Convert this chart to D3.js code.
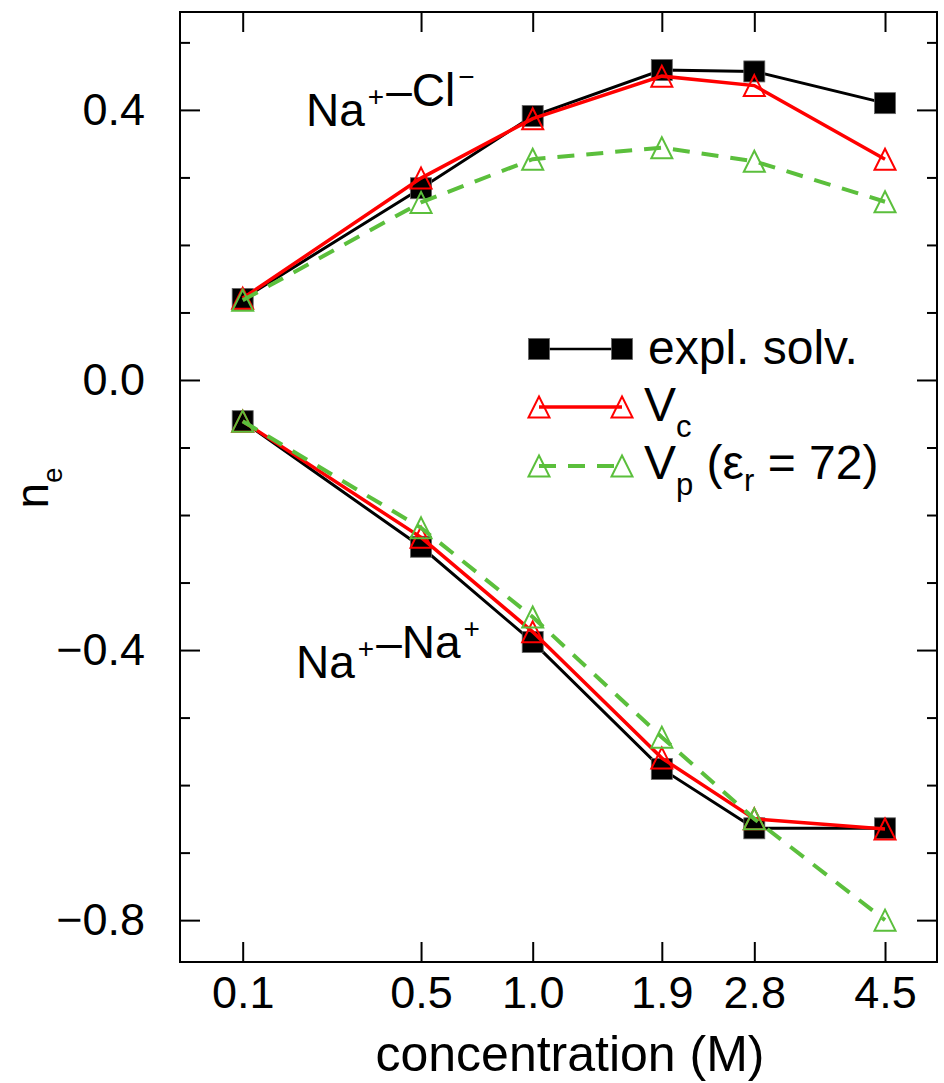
<!DOCTYPE html>
<html>
<head>
<meta charset="utf-8">
<script src="https://cdn.jsdelivr.net/npm/d3@7"></script>
<style>
  html, body { margin: 0; padding: 0; background: #fff; }
  svg { display: block; font-family: "Liberation Sans", Arial, Helvetica, sans-serif; }
</style>
</head>
<body>
<svg id="chart" width="944" height="1083"></svg>
<script>
// ---- data ----
const concentrations = [0.1, 0.5, 1.0, 1.9, 2.8, 4.5];
const xTickLabels = ["0.1", "0.5", "1.0", "1.9", "2.8", "4.5"];

const naclExpl = [0.120, 0.284, 0.391, 0.459, 0.457, 0.410];
const naclVc   = [0.121, 0.299, 0.387, 0.450, 0.436, 0.327];
const naclVp   = [0.118, 0.263, 0.327, 0.344, 0.324, 0.264];

const nanaExpl = [-0.061, -0.247, -0.388, -0.576, -0.664, -0.664];
const nanaVc   = [-0.061, -0.233, -0.373, -0.560, -0.650, -0.665];
const nanaVp   = [-0.061, -0.219, -0.351, -0.529, -0.650, -0.800];

const yMajorTicks = [-0.8, -0.4, 0.0, 0.4];
const yTickLabels = ["\u22120.8", "\u22120.4", "0.0", "0.4"];
const yMinorTicks = [-0.7, -0.6, -0.5, -0.3, -0.2, -0.1, 0.1, 0.2, 0.3, 0.5];

const seriesNames = ["expl. solv.", "Vc", "Vp"];

// ---- layout ----
const L = 180, R = 937, T = 12, B = 962;
const svg = d3.select("#chart");

const x = d3.scalePow().exponent(1 / 3).domain([0.04226, 5.332]).range([L, R]);
const y = d3.scaleLinear().domain([-0.862, 0.545]).range([B, T]);

const BLACK = "#000", RED = "#ff0000", GREEN = "#5bbf3c";
const styles = {
  expl: { color: BLACK, width: 3, dash: null, marker: "square" },
  vc:   { color: RED, width: 3.5, dash: null, marker: "triangle" },
  vp:   { color: GREEN, width: 4, dash: "17,12", marker: "triangle" }
};

// ---- axes (ticks inward on all four sides) ----
const majorLen = 20, minorLen = 10;
const fs = 45;

const axB = d3.axisBottom(x).tickValues(concentrations).tickSize(-majorLen)
  .tickPadding(14).tickFormat((d, i) => xTickLabels[i]);
const gB = svg.append("g").attr("transform", `translate(0,${B})`).call(axB);
const axT = d3.axisTop(x).tickValues(concentrations).tickSize(-majorLen).tickFormat("");
const gT = svg.append("g").attr("transform", `translate(0,${T})`).call(axT);

const axL = d3.axisLeft(y).tickValues(yMajorTicks).tickSize(-majorLen)
  .tickPadding(35).tickFormat((d, i) => yTickLabels[i]);
const gL = svg.append("g").attr("transform", `translate(${L},0)`).call(axL);
const axLm = d3.axisLeft(y).tickValues(yMinorTicks).tickSize(-minorLen).tickFormat("");
const gLm = svg.append("g").attr("transform", `translate(${L},0)`).call(axLm);
const axR = d3.axisRight(y).tickValues(yMajorTicks).tickSize(-majorLen).tickFormat("");
const gR = svg.append("g").attr("transform", `translate(${R},0)`).call(axR);
const axRm = d3.axisRight(y).tickValues(yMinorTicks).tickSize(-minorLen).tickFormat("");
const gRm = svg.append("g").attr("transform", `translate(${R},0)`).call(axRm);

[gB, gT, gL, gLm, gR, gRm].forEach(g => {
  g.select(".domain").remove();
  g.selectAll(".tick line").attr("stroke", "#000").attr("stroke-width", 2);
  g.selectAll(".tick text").attr("fill", "#000").style("font-size", fs + "px")
    .style("font-family", '"Liberation Sans", Arial, sans-serif');
});
gB.selectAll(".tick text").attr("dy", "0.71em");

// frame
svg.append("rect").attr("x", L).attr("y", T).attr("width", R - L).attr("height", B - T)
  .attr("fill", "none").attr("stroke", "#000").attr("stroke-width", 2);

// axis titles
svg.append("text").attr("x", 570).attr("y", 1071).attr("text-anchor", "middle")
  .style("font-size", "50px").text("concentration (M)");

const yl = svg.append("text").attr("transform", "translate(48,488) rotate(-90)")
  .attr("text-anchor", "middle").style("font-size", "46px");
yl.append("tspan").text("n");
yl.append("tspan").attr("dy", 14).style("font-size", "28px").text("e");

// ---- markers ----
const MS = 21;
function drawMarker(g, type, cx, cy, color) {
  if (type === "square") {
    g.append("rect").attr("x", cx - MS / 2).attr("y", cy - MS / 2)
      .attr("width", MS).attr("height", MS).attr("fill", "#000")
      .attr("stroke", "#666").attr("stroke-width", 0.8);
  } else {
    const h = MS / 2;
    g.append("path")
      .attr("d", `M${cx},${cy - h}L${cx + h},${cy + h}L${cx - h},${cy + h}Z`)
      .attr("fill", "none").attr("stroke", color).attr("stroke-width", 2);
  }
}

const line = d3.line().x(d => x(d[0])).y(d => y(d[1]));
function drawSeries(values, st) {
  const pts = concentrations.map((c, i) => [c, values[i]]);
  const g = svg.append("g");
  g.append("path").attr("d", line(pts)).attr("fill", "none")
    .attr("stroke", st.color).attr("stroke-width", st.width)
    .attr("stroke-dasharray", st.dash);
  pts.forEach(p => drawMarker(g, st.marker, x(p[0]), y(p[1]), st.color));
}

drawSeries(naclExpl, styles.expl);
drawSeries(nanaExpl, styles.expl);
drawSeries(naclVc, styles.vc);
drawSeries(nanaVc, styles.vc);
drawSeries(naclVp, styles.vp);
drawSeries(nanaVp, styles.vp);

// ---- annotations ----
function ionLabel(xp, yp, parts) {
  const t = svg.append("text").attr("x", xp).attr("y", yp).style("font-size", "46px");
  parts.forEach(p => {
    if (p.sup) {
      t.append("tspan").attr("dx", 3).attr("dy", -20).style("font-size", "28px").text(p.t);
      t.append("tspan").attr("dy", 20).text("");
    } else {
      t.append("tspan").attr("dx", p.dx || 0).text(p.t);
    }
  });
}
ionLabel(306, 126, [{ t: "Na" }, { t: "+", sup: true }, { t: "\u2013Cl", dx: 2 }, { t: "\u2212", sup: true }]);
ionLabel(296, 678, [{ t: "Na" }, { t: "+", sup: true }, { t: "\u2013Na", dx: 2 }, { t: "+", sup: true }]);

// ---- legend ----
const lx1 = 539, lx2 = 622, ltx = 644;
const rows = [
  { st: styles.expl, y: 349 },
  { st: styles.vc, y: 407 },
  { st: styles.vp, y: 466 }
];
rows.forEach(r => {
  const g = svg.append("g");
  g.append("line").attr("x1", lx1).attr("x2", lx2).attr("y1", r.y).attr("y2", r.y)
    .attr("stroke", r.st.color).attr("stroke-width", r.st.width === 3 ? 2.5 : r.st.width)
    .attr("stroke-dasharray", r.st.dash);
  drawMarker(g, r.st.marker, lx1, r.y, r.st.color);
  drawMarker(g, r.st.marker, lx2, r.y, r.st.color);
});
svg.append("text").attr("x", ltx + 4).attr("y", 364).style("font-size", "48px").text(seriesNames[0]);
const t2 = svg.append("text").attr("x", ltx).attr("y", 421).style("font-size", "48px");
t2.append("tspan").text("V");
t2.append("tspan").attr("dy", 16).style("font-size", "31px").text("c");
const t3 = svg.append("text").attr("x", ltx).attr("y", 479).style("font-size", "48px");
t3.append("tspan").text("V");
t3.append("tspan").attr("dy", 16).style("font-size", "31px").text("p");
t3.append("tspan").attr("dy", -16).text(" (\u03b5");
t3.append("tspan").attr("dy", 12).style("font-size", "31px").text("r");
t3.append("tspan").attr("dy", -12).text(" = 72)");
</script>
</body>
</html>
